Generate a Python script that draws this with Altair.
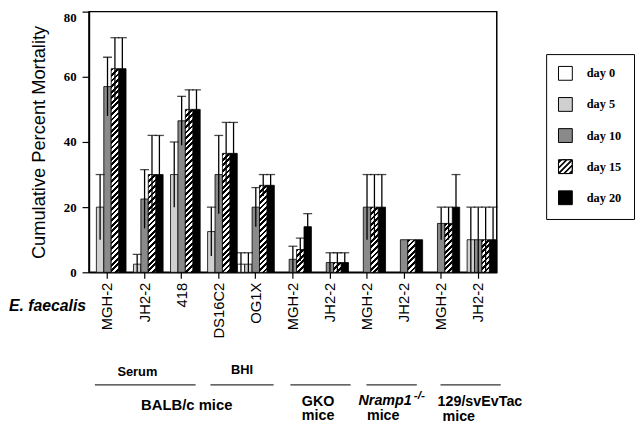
import math
import altair as alt
import pandas as pd

# ---------------- data ----------------
groups = ["MGH-2|1", "JH2-2|2", "418|3", "DS16C2|4", "OG1X|5", "MGH-2|6",
          "JH2-2|7", "MGH-2|8", "JH2-2|9", "MGH-2|10", "JH2-2|11"]
days = ["day 0", "day 5", "day 10", "day 15", "day 20"]

day0 = [0, 0, 0, 0, 2.5, 0, 0, 0, 0, 0, 0]
day5 = [20, 2.5, 30, 12.5, 2.5, 0, 0, 0, 0, 0, 10]
day10 = [57, 22.5, 46.5, 30, 20, 4, 3, 20, 10, 15, 10]
day15 = [62.5, 30, 50, 36.5, 26.7, 7, 3, 20, 10, 15, 10]
day20 = [62.5, 30, 50, 36.5, 26.7, 14, 3, 20, 10, 20, 10]

err0 = [0, 0, 0, 0, 3.5, 0, 0, 0, 0, 0, 0]
err5 = [10, 3, 10, 7.5, 3.5, 0, 0, 0, 0, 0, 10]
err10 = [9, 9, 7.5, 12, 6, 4, 3, 10, 0, 5, 10]
err15 = [9.5, 12, 6, 9.5, 3.3, 3.5, 3, 10, 0, 5, 10]
err20 = [9.5, 12, 6, 9.5, 3.3, 4, 3, 10, 0, 10, 10]

y_ticks = [0, 20, 40, 60, 80]

values = [day0, day5, day10, day15, day20]
errors = [err0, err5, err10, err15, err20]

rows = []
for d, vals, errs in zip(days, values, errors):
    for g, v, e in zip(groups, vals, errs):
        rows.append({"group": g, "day": d, "value": v, "err": e,
                     "lo": max(0.0, v - e), "hi": v + e})
df = pd.DataFrame(rows)

# ---------------- layout ----------------
W, H = 413, 264
YMAX = 80
BAR_W = W / len(groups) / len(days)

fill_colors = ["white", "#d0d0d0", "#8a8a8a", "black", "black"]


def clip(poly, sign, c):
    """keep points with sign*(x+y) >= sign*c"""
    out = []
    n = len(poly)
    for i in range(n):
        p, q = poly[i], poly[(i + 1) % n]
        fp = sign * (p[0] + p[1] - c)
        fq = sign * (q[0] + q[1] - c)
        if fp >= 0:
            out.append(p)
        if (fp >= 0) != (fq >= 0):
            t = fp / (fp - fq)
            out.append((p[0] + t * (q[0] - p[0]), p[1] + t * (q[1] - p[1])))
    return out


def stripe_symbol():
    sq = [(-1, -1), (1, -1), (1, 1), (-1, 1)]
    path = "M-1,-1L1,-1L1,1L-1,1Z"
    for cc in [-1.2, -0.4, 0.4, 1.2]:
        poly = clip(clip(sq, 1, cc - 0.3), -1, cc + 0.3)
        poly = poly[::-1]
        path += "M" + "L".join(f"{x:.3f},{y:.3f}" for x, y in poly) + "Z"
    return path


shape_range = ["square", "square", "square", stripe_symbol(), "square"]


def stripe_gradient(v, period=4.0):
    h = v / YMAX * H
    w = BAR_W
    r = h / w
    dx = (1 + r) / (1 + r * r)
    dy = r * dx
    n = (w + h) / (period * math.sqrt(2))
    stops = []
    k = 0
    while True:
        t0 = k / n
        if t0 >= 1:
            break
        t1 = min(1.0, (k + 0.5) / n)
        t2 = min(1.0, (k + 1) / n)
        stops += [{"offset": t0, "color": "black"}, {"offset": t1, "color": "black"}]
        if t1 < 1:
            stops += [{"offset": t1, "color": "white"}, {"offset": t2, "color": "white"}]
        k += 1
    return {"gradient": "linear", "x1": 0, "y1": 0, "x2": dx, "y2": dy, "stops": stops}


x_enc = alt.X("group:N", sort=groups,
              scale=alt.Scale(domain=groups, paddingInner=0, paddingOuter=0),
              axis=alt.Axis(title=None, labelAngle=270, labelAlign="right", labelBaseline="middle",
                            labelExpr="split(datum.label, '|')[0]",
                            labelFont="Liberation Sans", labelFontSize=15, labelColor="black",
                            labelPadding=4, tickSize=6, tickColor="black", tickWidth=1.2,
                            domainColor="black", domainWidth=1.5))
xo_enc = alt.XOffset("day:N", scale=alt.Scale(domain=days, paddingInner=0, paddingOuter=0))
y_enc = alt.Y("value:Q", scale=alt.Scale(domain=[0, YMAX], nice=False),
              axis=alt.Axis(values=y_ticks, grid=False, title="Cumulative Percent Mortality",
                            titleFont="Liberation Sans", titleFontSize=18.5, titleFontWeight="normal",
                            titleColor="black", titlePadding=15,
                            labelFont="Liberation Serif", labelFontWeight="bold", labelFontSize=13,
                            labelColor="black", labelPadding=6, tickSize=7, tickColor="black",
                            tickWidth=1.2, domainColor="black", domainWidth=1.5,
                            labelBaseline={"condition": {"test": "datum.value == 80", "value": "top"},
                                           "value": "middle"}))

legend = alt.Legend(orient="none", legendX=463, legendY=43, title=None, direction="vertical",
                    symbolSize=196, symbolStrokeColor="black", symbolStrokeWidth=1,
                    symbolOpacity=1, symbolType="square",
                    labelExpr="datum.label + '\u00a0\u00a0\u00a0\u00a0\u00a0\u00a0\u00a0'",
                    labelFont="Liberation Serif", labelFontWeight="bold", labelFontSize=12.5,
                    labelColor="black", labelOffset=14, rowPadding=12.5, padding=12,
                    strokeColor="black", fillColor="white")

fill_scale = alt.Scale(domain=days, range=fill_colors)
stroke_scale = alt.Scale(domain=days, range=["black"] * len(days))

bars = alt.Chart(df).transform_filter(
    "datum.value > 0 && datum.day != 'day 15'"
).mark_bar(strokeWidth=0.8).encode(
    x=x_enc, xOffset=xo_enc, y=y_enc,
    fill=alt.Fill("day:N", scale=fill_scale, legend=legend),
    stroke=alt.Stroke("day:N", scale=stroke_scale, legend=legend),
)

layers = [bars]

d15 = df[(df["day"] == "day 15") & (df["value"] > 0)]
for _, row in d15.iterrows():
    sub = pd.DataFrame([row])
    layers.append(
        alt.Chart(sub).mark_bar(fill=stripe_gradient(row["value"]), stroke="black", strokeWidth=0.8)
        .encode(x=x_enc, xOffset=xo_enc, y=y_enc)
    )

err_df = df[df["err"] > 0]
whisk = alt.Chart(err_df).mark_rule(color="black", strokeWidth=1.3).encode(
    x=x_enc, xOffset=xo_enc, y=alt.Y("lo:Q", scale=alt.Scale(domain=[0, YMAX], nice=False)),
    y2="hi:Q")
caps = alt.Chart(err_df).mark_tick(color="black", size=9, thickness=1.3, orient="horizontal").encode(
    x=x_enc, xOffset=xo_enc, y=alt.Y("hi:Q", scale=alt.Scale(domain=[0, YMAX], nice=False)))
layers += [whisk, caps]

legend_layer = alt.Chart(df).transform_filter("datum.value < 0").mark_point(
    filled=True, opacity=1, strokeWidth=1).encode(
    x=x_enc, xOffset=xo_enc, y=y_enc,
    fill=alt.Fill("day:N", scale=fill_scale, legend=legend),
    stroke=alt.Stroke("day:N", scale=stroke_scale, legend=legend),
    shape=alt.Shape("day:N", scale=alt.Scale(domain=days, range=shape_range), legend=legend),
)
layers.append(legend_layer)


def label(text, x, y, size=14.5, weight="bold", style="normal", align="center"):
    return alt.Chart(alt.Data(values=[{}])).mark_text(
        text=text, font="Liberation Sans", fontSize=size, fontWeight=weight, fontStyle=style,
        align=align, baseline="middle", color="black").encode(x=alt.value(x), y=alt.value(y))


def hline(x1, x2, y):
    return alt.Chart(alt.Data(values=[{}])).mark_rule(color="#333333", strokeWidth=1.5).encode(
        x=alt.value(x1), x2=alt.value(x2), y=alt.value(y))


layers += [
    label("E. faecalis", -42, 298, size=16, style="italic"),
    label("Serum", 49, 365, size=13),
    label("BHI", 155, 363, size=13),
    hline(6, 108, 378), hline(123, 187, 378), hline(204, 265, 378),
    hline(281, 332, 378), hline(356, 417, 378),
    label("BALB/c mice", 99, 398, size=15),
    label("GKO", 232, 395), label("mice", 232, 410),
    label("Nramp1", 273, 394, style="italic", align="left"),
    label("-/-", 329, 388, size=12, style="italic", align="left"),
    label("mice", 298, 410),
    label("129/svEvTac", 353, 395, align="left"),
    label("mice", 358, 410.5, align="left"),
]

chart = alt.layer(*layers).properties(
    width=W, height=H,
    padding={"left": 82, "top": 1, "right": 141, "bottom": 155},
    autosize=alt.AutoSizeParams(type="none"),
    background="white",
).configure_view(stroke="black", strokeWidth=1.5)

chart.save("out.html", embed_options={"renderer": "svg", "actions": False})
